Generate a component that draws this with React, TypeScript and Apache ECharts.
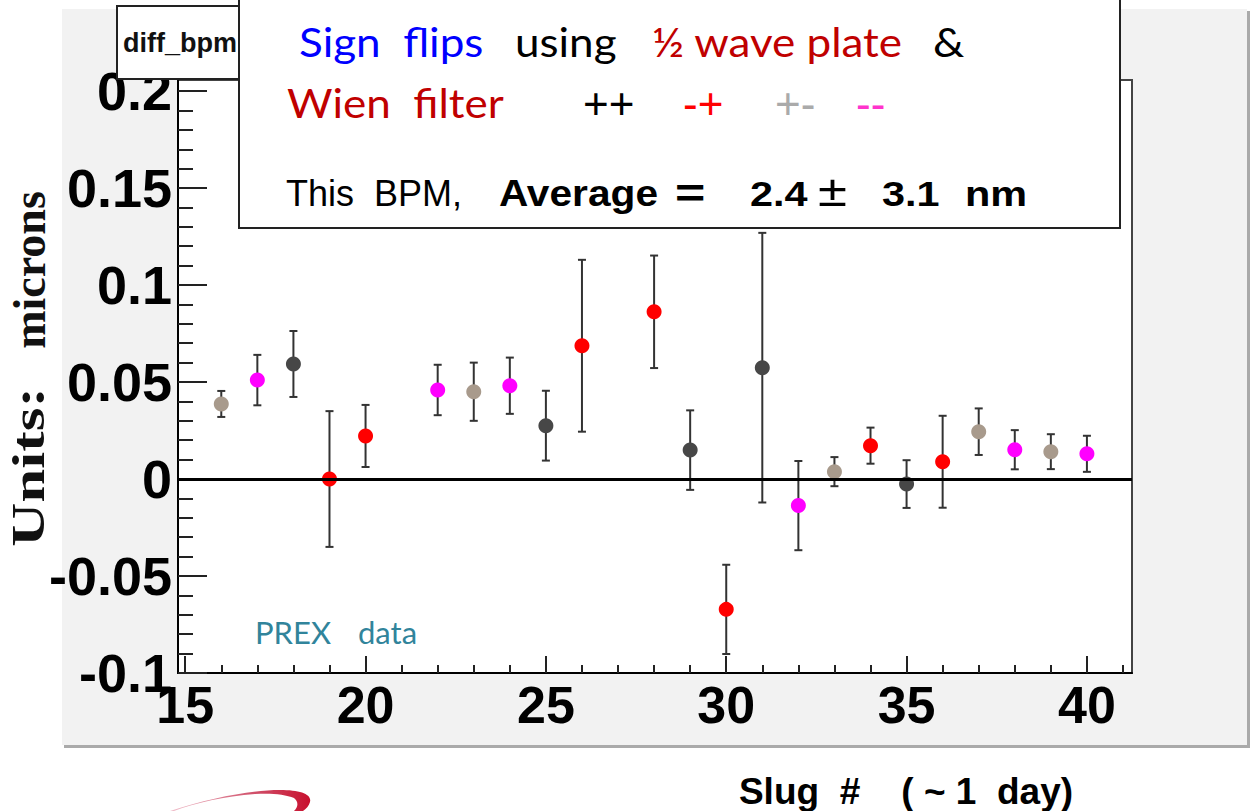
import React, { useEffect, useRef } from "react";
import * as echarts from "echarts";

// ---- data ----
const slugs = [16, 17, 18, 19, 20, 22, 23, 24, 25, 26, 28, 29, 30, 31, 32, 33, 34, 35, 36, 37, 38, 39, 40];
const values = [0.0387, 0.051, 0.0593, 0.0, 0.0222, 0.0459, 0.045, 0.0481, 0.0275, 0.0687, 0.0862, 0.0149, -0.0672, 0.0574, -0.0137, 0.0038, 0.0172, -0.0026, 0.0089, 0.0244, 0.0151, 0.0141, 0.013];
const errors = [0.0067, 0.013, 0.017, 0.035, 0.016, 0.013, 0.015, 0.0145, 0.018, 0.0443, 0.029, 0.0205, 0.023, 0.0695, 0.023, 0.0075, 0.0093, 0.0123, 0.0237, 0.012, 0.0101, 0.009, 0.0093];
const states = ["+-", "--", "++", "-+", "-+", "--", "+-", "--", "++", "-+", "-+", "++", "-+", "++", "--", "+-", "-+", "++", "-+", "+-", "--", "+-", "--"];
const stateOrder = ["++", "-+", "+-", "--"];
const stateColors: Record<string, string> = { "++": "#474747", "-+": "#ff0000", "+-": "#a89a8c", "--": "#ff00ff" };
const averageLine = 0.0035;

const xMajorTicks = [15, 20, 25, 30, 35, 40];
const xMinorTicks = [15, 16, 17, 18, 19, 20, 21, 22, 23, 24, 25, 26, 27, 28, 29, 30, 31, 32, 33, 34, 35, 36, 37, 38, 39, 40, 41];
const yMajorTicks = [-0.1, -0.05, 0, 0.05, 0.1, 0.15, 0.2];
const yMinorTicks = Array.from({ length: 31 }, (_, i) => (i - 10) / 100);

const X_MIN = 14.8, X_MAX = 41.25, Y_MIN = -0.1, Y_MAX = 0.2057;

const sans = "Liberation Sans";
const cal = "Lato";

export default function App() {
  const ref = useRef<HTMLDivElement>(null);
  useEffect(() => {
    if (!ref.current) return;
    const chart = echarts.init(ref.current, null, { renderer: "svg" });
    echarts.graphic.registerShape(
      "swoosh",
      echarts.graphic.extendPath(
        "M 0 23 C 40 10 80 2 110 2 C 130 2 142 6 140 14 C 139 18 136 21 133 23 L 124 23 C 128 19 129 14 124 10 C 115 6 100 5 85 6 C 55 8 25 15 4 23 Z",
        {}
      )
    );
    const tickLine = { color: "#222", width: 2 };
    const errData = slugs.map((s, i) => [s, values[i] - errors[i], values[i] + errors[i]]);
    const scatterSeries = stateOrder.map((st, k) => ({
      type: "scatter",
      name: st,
      data: slugs.map((s, i) => [s, values[i], states[i]]).filter((d) => d[2] === st).map((d) => [d[0], d[1]]),
      symbol: "circle",
      symbolSize: 15,
      itemStyle: { color: stateColors[st], opacity: 1 },
      z: 4,
      ...(k === 0
        ? {
            markLine: {
              silent: true,
              symbol: "none",
              label: { show: false },
              lineStyle: { color: "#000", width: 3, type: "solid" },
              data: [{ yAxis: averageLine }],
            },
          }
        : {}),
    }));

    const legendText = (text: string, x: number, y: number, fill: string, fontSize: number, family: string, extra: any = {}) => ({
      type: "text", z: 101, x, y, ...extra,
      style: { text, fontSize, fontFamily: family, fill, verticalAlign: "middle", ...(extra.style || {}) },
    });

    const option: any = {
      animation: false,
      grid: {
        left: 178, top: 80, right: 1253 - 1132, bottom: 811 - 673,
        show: true, backgroundColor: "#ffffff", borderColor: "#444", borderWidth: 2,
      },
      xAxis: [
        {
          type: "value", min: X_MIN, max: X_MAX, position: "bottom",
          axisLine: { show: true, onZero: false, lineStyle: { color: "#000", width: 2 } },
          axisTick: { show: true, inside: true, length: 17, customValues: xMajorTicks, lineStyle: tickLine },
          axisLabel: { customValues: xMajorTicks, fontSize: 52, fontWeight: "bold", fontFamily: sans, color: "#000", margin: 6 },
          splitLine: { show: false },
        },
        {
          type: "value", min: X_MIN, max: X_MAX, position: "bottom",
          axisLine: { show: false, onZero: false },
          axisTick: { show: true, inside: true, length: 8, customValues: xMinorTicks, lineStyle: tickLine },
          axisLabel: { show: false },
          splitLine: { show: false },
        },
      ],
      yAxis: [
        {
          type: "value", min: Y_MIN, max: Y_MAX, position: "left",
          axisLine: { show: true, onZero: false, lineStyle: { color: "#000", width: 2 } },
          axisTick: { show: true, inside: true, length: 29, customValues: yMajorTicks, lineStyle: tickLine },
          axisLabel: { customValues: yMajorTicks, fontSize: 54, fontWeight: "bold", fontFamily: sans, color: "#000", margin: 6, padding: [14, 0, 0, 0] },
          splitLine: { show: false },
        },
        {
          type: "value", min: Y_MIN, max: Y_MAX, position: "left",
          axisLine: { show: false, onZero: false },
          axisTick: { show: true, inside: true, length: 15, customValues: yMinorTicks, lineStyle: tickLine },
          axisLabel: { show: false },
          splitLine: { show: false },
        },
      ],
      series: [
        {
          type: "custom",
          name: "errors",
          xAxisIndex: 0, yAxisIndex: 0,
          data: errData,
          encode: { x: 0, y: [1, 2] },
          z: 3,
          renderItem: (params: any, api: any) => {
            const x = api.value(0);
            const lo = api.coord([x, api.value(1)]);
            const hi = api.coord([x, api.value(2)]);
            const w = 4;
            const style = { stroke: "#333", lineWidth: 2 };
            return {
              type: "group",
              children: [
                { type: "line", shape: { x1: lo[0], y1: lo[1], x2: hi[0], y2: hi[1] }, style },
                { type: "line", shape: { x1: lo[0] - w, y1: lo[1], x2: lo[0] + w, y2: lo[1] }, style },
                { type: "line", shape: { x1: hi[0] - w, y1: hi[1], x2: hi[0] + w, y2: hi[1] }, style },
              ],
            };
          },
        },
        ...scatterSeries,
      ],
      graphic: [
        // canvas panel
        { type: "rect", z: -10, silent: true, shape: { x: 64, y: 11, width: 1186, height: 737 }, style: { fill: "#aaaaaa" } },
        { type: "rect", z: -9, silent: true, shape: { x: 62, y: 9, width: 1185, height: 736 }, style: { fill: "#f2f2f2" } },
        // title box
        { type: "rect", z: 99, shape: { x: 117, y: 6, width: 500, height: 73 }, style: { fill: "#fff", stroke: "#222", lineWidth: 2 } },
        { type: "text", z: 99, x: 123, y: 43, style: { text: "diff_bpm", fontSize: 27, fontWeight: "bold", fontFamily: sans, fill: "#111", verticalAlign: "middle" } },
        // legend box
        { type: "rect", z: 100, shape: { x: 239, y: -5, width: 881, height: 233 }, style: { fill: "#fff", stroke: "#222", lineWidth: 2 } },
        legendText("Sign  flips", 299, 42, "#0000ff", 40, cal, { scaleX: 1.1 }),
        legendText("using", 515, 42, "#000", 40, cal, { scaleX: 1.1 }),
        legendText("½ wave plate", 652, 42, "#c00000", 40, cal, { scaleX: 1.1 }),
        legendText("&", 933, 42, "#000", 40, cal, { scaleX: 1.1 }),
        legendText("Wien  filter", 287, 103, "#c00000", 40, cal, { scaleX: 1.1 }),
        legendText("++", 583, 103, "#000", 44, sans),
        legendText("-+", 683, 103, "#ff0000", 44, sans),
        legendText("+-", 775, 103, "#aaaaaa", 44, sans),
        legendText("--", 856, 103, "#ff33cc", 44, sans),
        legendText("This  BPM,", 286, 193, "#000", 36, sans),
        legendText("Average", 499, 193, "#000", 36, sans, { scaleX: 1.13, style: { fontWeight: "bold" } }),
        legendText("=", 675, 193, "#000", 40, sans, { scaleX: 1.3, style: { fontWeight: "bold" } }),
        legendText("2.4", 750, 193, "#000", 36, sans, { scaleX: 1.15, style: { fontWeight: "bold" } }),
        legendText("±", 818, 191, "#000", 44, sans, { scaleX: 1.2 }),
        legendText("3.1", 882, 193, "#000", 36, sans, { scaleX: 1.15, style: { fontWeight: "bold" } }),
        legendText("nm", 965, 193, "#000", 36, sans, { scaleX: 1.15, style: { fontWeight: "bold" } }),
        // in-plot label
        { type: "text", z: 20, x: 255, y: 632, style: { text: "PREX", fontSize: 31, fontFamily: cal, fill: "#31849b", verticalAlign: "middle" } },
        { type: "text", z: 20, x: 358, y: 632, style: { text: "data", fontSize: 31, fontFamily: cal, fill: "#31849b", verticalAlign: "middle" } },
        // axis titles
        { type: "text", z: 20, x: 29, y: 270, rotation: Math.PI / 2, style: { text: "microns", fontSize: 46, fontWeight: "bold", fontFamily: "Liberation Serif", fill: "#111", align: "center", verticalAlign: "middle" } },
        { type: "text", z: 20, x: 29, y: 467, rotation: Math.PI / 2, scaleX: 1.33, style: { text: "Units:", fontSize: 46, fontWeight: "bold", fontFamily: "Liberation Serif", fill: "#111", align: "center", verticalAlign: "middle" } },
        { type: "text", z: 20, x: 906, y: 791, style: { text: "Slug  #    ( ~ 1  day)", fontSize: 37, fontWeight: "bold", fontFamily: sans, fill: "#000", align: "center", verticalAlign: "middle" } },
        // logo swoosh
        {
          type: "swoosh", z: 20, x: 170, y: 788,
          style: {
            fill: { type: "linear", x: 0, y: 0, x2: 1, y2: 0, colorStops: [{ offset: 0, color: "#f0c0cc" }, { offset: 0.6, color: "#d0506a" }, { offset: 1, color: "#c8102e" }] },
          },
        },
      ],
    };
    chart.setOption(option);
    return () => chart.dispose();
  }, []);
  return <div ref={ref} style={{ position: "fixed", left: 0, top: 0, width: 1253, height: 811, background: "#fff" }} />;
}
